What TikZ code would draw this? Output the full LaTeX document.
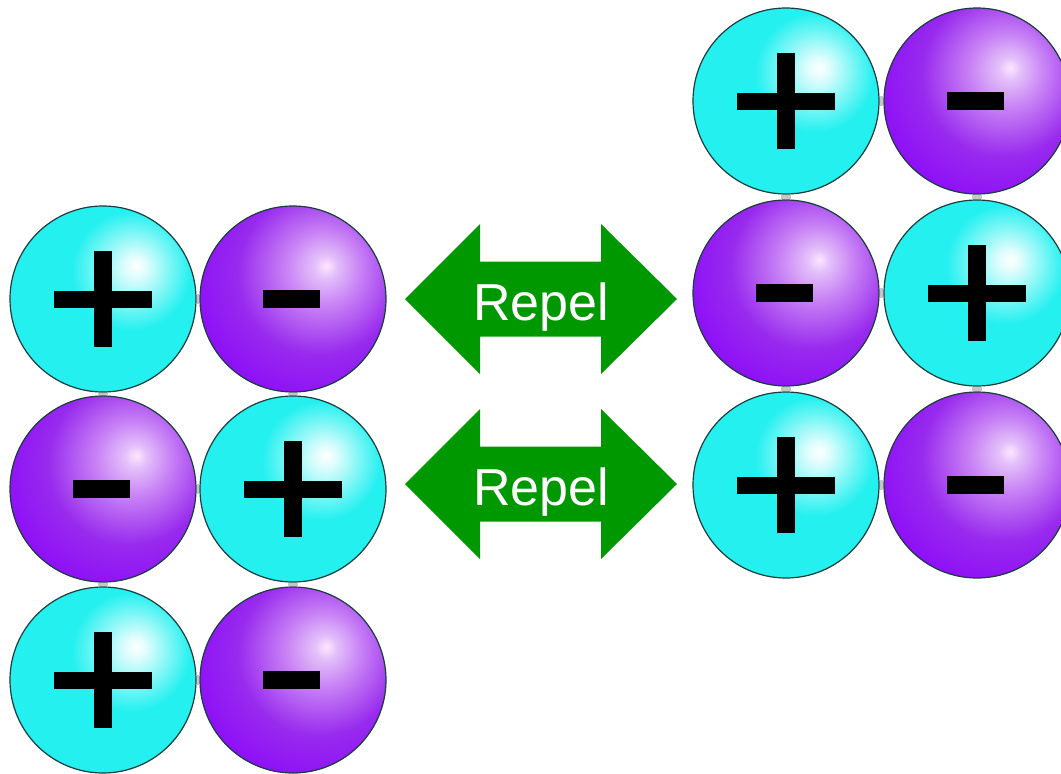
\documentclass[tikz,border=0pt]{standalone}
\usepackage{fontspec}
\setmainfont{Liberation Sans}
\definecolor{cyanbase}{RGB}{36,240,240}
\definecolor{purpedge}{RGB}{136,0,252}
\definecolor{purpmid}{RGB}{152,42,238}
\definecolor{purplite}{RGB}{200,130,245}
\definecolor{arrowgreen}{RGB}{0,152,0}
\definecolor{rimcol}{RGB}{25,60,60}
\pgfdeclareradialshading{cyanshade}{\pgfpoint{9bp}{9bp}}{%
  color(0bp)=(white); color(3bp)=(white!85!cyanbase);
  color(16bp)=(cyanbase); color(100bp)=(cyanbase)}
\pgfdeclareradialshading{purpshade}{\pgfpoint{9bp}{9bp}}{%
  color(0bp)=(white!90!magenta); color(3bp)=(purplite!50!white);
  color(10bp)=(purplite); color(22bp)=(purpmid); color(40bp)=(purpedge);
  color(100bp)=(purpedge)}
\tikzset{
  sphere/.style={circle, minimum size=186pt, inner sep=0pt, draw=rimcol, line width=1.2pt},
  posion/.style={sphere, shading=cyanshade,
    path picture={
      \fill[black] ([shift={(-49pt,-8.5pt)}]path picture bounding box.center) rectangle ++(98pt,17pt);
      \fill[black] ([shift={(-9pt,-48pt)}]path picture bounding box.center) rectangle ++(18pt,96pt);
    }},
  negion/.style={sphere, shading=purpshade,
    path picture={
      \fill[black] ([shift={(-30pt,-9pt)}]path picture bounding box.center) rectangle ++(57pt,18pt);
    }},
  bond/.style={draw=gray!45, line width=10pt},
  repeltext/.style={text=white, font=\fontsize{52pt}{60pt}\selectfont, inner sep=0pt, anchor=base},
  arrowfill/.style={fill=arrowgreen}
}
\begin{document}
\begin{tikzpicture}[x=1pt,y=-1pt]
\useasboundingbox (0,0) rectangle (1061,774);
\fill[white] (0,0) rectangle (1061,774);
% left block
\node[posion] (L11) at (103,299) {};
\node[negion] (L12) at (293,299) {};
\node[negion] (L21) at (103,489) {};
\node[posion] (L22) at (293,489) {};
\node[posion] (L31) at (103,680) {};
\node[negion] (L32) at (293,680) {};
% right block
\node[posion] (R11) at (786,101) {};
\node[negion] (R12) at (977,101) {};
\node[negion] (R21) at (786,293) {};
\node[posion] (R22) at (977,293) {};
\node[posion] (R31) at (786,485) {};
\node[negion] (R32) at (977,485) {};
% bonds
\draw[bond] (L11.south) -- (L21.north);
\draw[bond] (L21.south) -- (L31.north);
\draw[bond] (L12.south) -- (L22.north);
\draw[bond] (L22.south) -- (L32.north);
\draw[bond] (L11.east) -- (L12.west);
\draw[bond] (L21.east) -- (L22.west);
\draw[bond] (L31.east) -- (L32.west);
\draw[bond] (R11.south) -- (R21.north);
\draw[bond] (R21.south) -- (R31.north);
\draw[bond] (R12.south) -- (R22.north);
\draw[bond] (R22.south) -- (R32.north);
\draw[bond] (R11.east) -- (R12.west);
\draw[bond] (R21.east) -- (R22.west);
\draw[bond] (R31.east) -- (R32.west);
% arrows
\foreach \cy/\nm in {299/A1, 484/A2}{
  \begin{scope}[shift={(541,\cy)}]
    \fill[arrowfill] (-136,0) -- (-61,-75) -- (-61,-37.5) -- (60,-37.5) -- (60,-75)
      -- (136,0) -- (60,75) -- (60,37.5) -- (-61,37.5) -- (-61,75) -- cycle;
    \node[repeltext] (\nm) at (0,21) {Repel};
  \end{scope}
}
\end{tikzpicture}
\end{document}
